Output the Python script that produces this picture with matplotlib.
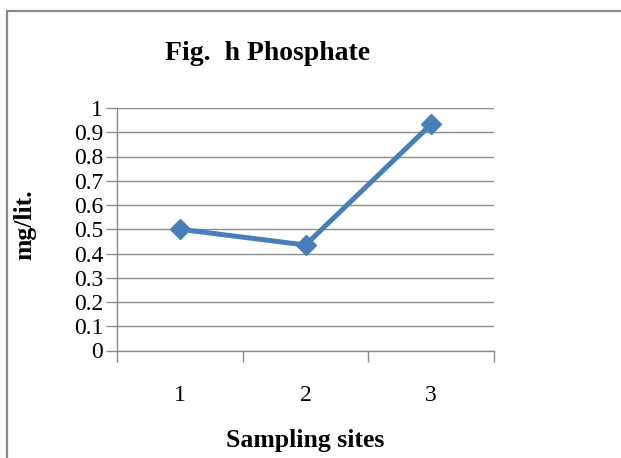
import matplotlib
matplotlib.use("Agg")
import matplotlib.pyplot as plt
from matplotlib.patches import Rectangle
from matplotlib.ticker import FixedLocator, NullFormatter

sites = ["1", "2", "3"]
phosphate = [0.50, 0.435, 0.933]
y_ticks = [0, 0.1, 0.2, 0.3, 0.4, 0.5, 0.6, 0.7, 0.8, 0.9, 1]
y_labels = ["0", "0.1", "0.2", "0.3", "0.4", "0.5", "0.6", "0.7", "0.8", "0.9", "1"]

W, H = 621, 458
fig = plt.figure(figsize=(W / 100, H / 100), dpi=100)
fig.patch.set_facecolor("white")

# outer chart frame
fig.patches.append(Rectangle((7 / W, -0.1), 1.2, 1 - 11 / H + 0.1,
                             transform=fig.transFigure, fill=False,
                             edgecolor="#8a8a8a", linewidth=1.6))

ax = fig.add_axes([117 / W, 1 - 350.5 / H, (494 - 117) / W, (350.5 - 108) / H])

serif = "Liberation Serif"
grid_c = "#8c8c8c"

x = list(range(len(sites)))
ax.plot(x, phosphate, color="#4A7EBB", linewidth=3.6, marker="D",
        markersize=10.5, markeredgecolor="#4A7EBB", zorder=3, clip_on=False)

ax.set_xlim(-0.5, len(sites) - 0.5)
ax.set_ylim(0, 1)

ax.set_yticks(y_ticks)
ax.set_yticklabels(y_labels, fontfamily=serif, fontsize=17)
ax.yaxis.grid(True, color=grid_c, linewidth=1.0)
ax.tick_params(axis="y", length=8, width=1.0, color=grid_c, pad=2)

ax.set_xticks(x)
ax.set_xticklabels(sites, fontfamily=serif, fontsize=17)
ax.tick_params(axis="x", which="major", length=0, pad=25)
ax.xaxis.set_minor_locator(FixedLocator([-0.5, 0.5, 1.5, 2.5]))
ax.xaxis.set_minor_formatter(NullFormatter())
ax.tick_params(axis="x", which="minor", length=8, width=1.0, color=grid_c)

for side in ("top", "right"):
    ax.spines[side].set_visible(False)
for side in ("left", "bottom"):
    ax.spines[side].set_color(grid_c)
    ax.spines[side].set_linewidth(1.0)
ax.set_axisbelow(True)

fig.text(25 / W, 1 - 225 / H, "mg/lit.", fontfamily=serif, fontsize=18.5,
         fontweight="bold", rotation=90, ha="center", va="center")
fig.text(305 / W, 1 - 440 / H, "Sampling sites", fontfamily=serif, fontsize=18.5,
         fontweight="bold", ha="center", va="center")
fig.text(268 / W, 1 - 54 / H, "Fig.  h Phosphate", fontfamily=serif, fontsize=20,
         fontweight="bold", ha="center", va="center")

fig.savefig("out.png", dpi=100)
